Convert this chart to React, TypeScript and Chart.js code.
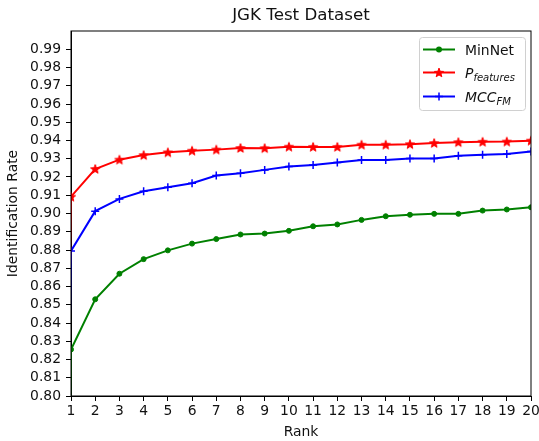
import React, { useEffect, useRef } from "react";
import { Chart, registerables } from "chart.js";

Chart.register(...registerables);

const FONT = "'DejaVu Sans', sans-serif";

// x values (rank 0 is below the visible range; its line shows as the steep segment at rank 1)
const ranks = [0, 1, 2, 3, 4, 5, 6, 7, 8, 9, 10, 11, 12, 13, 14, 15, 16, 17, 18, 19, 20];
const minNet = [0, 0.8255, 0.853, 0.867, 0.875, 0.8798, 0.8835, 0.886, 0.8885, 0.889, 0.8905, 0.893, 0.894, 0.8965, 0.8985, 0.8993, 0.8998, 0.8998, 0.9016, 0.9022, 0.9034];
const pFeatures = [0, 0.9092, 0.9244, 0.9295, 0.932, 0.9335, 0.9344, 0.935, 0.9359, 0.9358, 0.9366, 0.9365, 0.9365, 0.9377, 0.9377, 0.938, 0.9386, 0.9391, 0.9393, 0.9394, 0.9399];
const mccFM = [0, 0.8795, 0.9013, 0.908, 0.9122, 0.9144, 0.9166, 0.9208, 0.922, 0.9239, 0.9258, 0.9266, 0.928, 0.9293, 0.9293, 0.9302, 0.9302, 0.9317, 0.9322, 0.9326, 0.934];

const xTickValues = [1, 2, 3, 4, 5, 6, 7, 8, 9, 10, 11, 12, 13, 14, 15, 16, 17, 18, 19, 20];
const yTickValues = [0.8, 0.81, 0.82, 0.83, 0.84, 0.85, 0.86, 0.87, 0.88, 0.89, 0.9, 0.91, 0.92, 0.93, 0.94, 0.95, 0.96, 0.97, 0.98, 0.99];

const chartTitle = "JGK Test Dataset";
const xTitle = "Rank";
const yTitle = "Identification Rate";

const GREEN = "#008000";
const RED = "#ff0000";
const BLUE = "#0000ff";

function drawStar(ctx: CanvasRenderingContext2D, cx: number, cy: number, R: number, color: string) {
  const r = R * 0.42;
  ctx.beginPath();
  for (let i = 0; i < 10; i++) {
    const rad = i % 2 === 0 ? R : r;
    const a = -Math.PI / 2 + (i * Math.PI) / 5;
    const x = cx + rad * Math.cos(a);
    const y = cy + rad * Math.sin(a);
    if (i === 0) ctx.moveTo(x, y);
    else ctx.lineTo(x, y);
  }
  ctx.closePath();
  ctx.fillStyle = color;
  ctx.strokeStyle = color;
  ctx.lineWidth = 1;
  ctx.fill();
  ctx.stroke();
}

function makeStarImage(color: string) {
  const c = document.createElement("canvas");
  c.width = 12;
  c.height = 12;
  const ctx = c.getContext("2d")!;
  drawStar(ctx, 6, 6.4, 4.8, color);
  return c;
}

const framePlugin = {
  id: "frameAndDecor",
  afterDraw(chart: any) {
    const { ctx, chartArea } = chart;
    const { left, right, top, bottom } = chartArea;
    ctx.save();
    ctx.strokeStyle = "#000";
    ctx.lineWidth = 1;
    ctx.strokeRect(left, top, right - left, bottom - top);
    ctx.fillStyle = "#111";
    ctx.font = `16.7px ${FONT}`;
    ctx.textAlign = "center";
    ctx.textBaseline = "middle";
    ctx.fillText(chartTitle, (left + right) / 2, 15.5);

    const bx = 419.5, by = 37.5, bw = 106, bh = 73;
    ctx.beginPath();
    const rr = 3;
    ctx.moveTo(bx + rr, by);
    ctx.lineTo(bx + bw - rr, by);
    ctx.quadraticCurveTo(bx + bw, by, bx + bw, by + rr);
    ctx.lineTo(bx + bw, by + bh - rr);
    ctx.quadraticCurveTo(bx + bw, by + bh, bx + bw - rr, by + bh);
    ctx.lineTo(bx + rr, by + bh);
    ctx.quadraticCurveTo(bx, by + bh, bx, by + bh - rr);
    ctx.lineTo(bx, by + rr);
    ctx.quadraticCurveTo(bx, by, bx + rr, by);
    ctx.closePath();
    ctx.fillStyle = "rgba(255,255,255,0.8)";
    ctx.fill();
    ctx.strokeStyle = "#d0d0d0";
    ctx.stroke();

    const rows = [49.5, 72.5, 96.5];
    const colors = [GREEN, RED, BLUE];
    rows.forEach((y, i) => {
      ctx.strokeStyle = colors[i];
      ctx.lineWidth = 2;
      ctx.beginPath();
      ctx.moveTo(423, y);
      ctx.lineTo(455, y);
      ctx.stroke();
      if (i === 0) {
        ctx.beginPath();
        ctx.arc(439, y, 3, 0, Math.PI * 2);
        ctx.fillStyle = GREEN;
        ctx.fill();
      } else if (i === 1) {
        drawStar(ctx, 439, y + 0.4, 4.8, RED);
      } else {
        ctx.lineWidth = 1.5;
        ctx.beginPath();
        ctx.moveTo(439, y - 4);
        ctx.lineTo(439, y + 4);
        ctx.moveTo(435, y);
        ctx.lineTo(443, y);
        ctx.stroke();
      }
    });
    ctx.fillStyle = "#111";
    ctx.textAlign = "left";
    ctx.textBaseline = "alphabetic";
    ctx.font = `13.9px ${FONT}`;
    ctx.fillText("MinNet", 465, rows[0] + 5);
    ctx.font = `italic 13.9px ${FONT}`;
    ctx.fillText("P", 465, rows[1] + 5);
    let w = ctx.measureText("P").width;
    ctx.font = `italic 10px ${FONT}`;
    ctx.fillText("features", 465 + w, rows[1] + 8);
    ctx.font = `italic 13.9px ${FONT}`;
    ctx.fillText("MCC", 465, rows[2] + 5);
    w = ctx.measureText("MCC").width;
    ctx.font = `italic 10px ${FONT}`;
    ctx.fillText("FM", 465 + w, rows[2] + 8);
    ctx.restore();
  },
};

export default function App() {
  const ref = useRef<HTMLCanvasElement | null>(null);
  useEffect(() => {
    if (!ref.current) return;
    const mk = (arr: number[]) => ranks.map((r, i) => ({ x: r, y: arr[i] }));
    const clip = { left: 0, top: 0, right: 0, bottom: 0 } as any;
    const chart = new Chart(ref.current, {
      type: "line",
      data: {
        datasets: [
          {
            label: "MinNet",
            data: mk(minNet),
            borderColor: GREEN,
            backgroundColor: GREEN,
            borderWidth: 2,
            pointStyle: "circle",
            pointRadius: 2.5,
            pointBorderWidth: 1,
            pointBackgroundColor: GREEN,
            pointBorderColor: GREEN,
            tension: 0,
            clip,
          },
          {
            label: "P_features",
            data: mk(pFeatures),
            borderColor: RED,
            backgroundColor: RED,
            borderWidth: 2,
            pointStyle: makeStarImage(RED) as any,
            pointRadius: 5,
            tension: 0,
            clip,
          },
          {
            label: "MCC_FM",
            data: mk(mccFM),
            borderColor: BLUE,
            backgroundColor: BLUE,
            borderWidth: 2,
            pointStyle: "cross",
            pointRadius: 4,
            pointBorderWidth: 1.5,
            pointBorderColor: BLUE,
            tension: 0,
            clip,
          },
        ],
      },
      options: {
        responsive: false,
        animation: false,
        devicePixelRatio: 1,
        events: [],
        layout: { padding: { top: 31, right: 8, left: 0, bottom: 0 } },
        plugins: {
          legend: { display: false },
          title: { display: false },
          tooltip: { enabled: false },
        },
        scales: {
          x: {
            type: "linear",
            min: 1,
            max: 20,
            afterBuildTicks: (axis: any) => {
              axis.ticks = xTickValues.map((v) => ({ value: v }));
            },
            afterFit: (s: any) => {
              s.height = 45;
              s.paddingRight = 0;
              s.paddingLeft = 0;
            },
            ticks: {
              autoSkip: false,
              maxRotation: 0,
              padding: 2,
              color: "#111",
              font: { family: FONT, size: 13.9 },
              callback: (v: any) => String(v),
            },
            grid: {
              drawOnChartArea: false,
              drawTicks: true,
              tickLength: 5,
              tickColor: "#000",
              tickWidth: 1,
            },
            border: { display: true, color: "#000", width: 1 },
            title: {
              display: true,
              text: xTitle,
              color: "#111",
              font: { family: FONT, size: 13.9 },
              padding: { top: 0, bottom: 0 },
            },
          },
          y: {
            type: "linear",
            min: 0.8,
            max: 1.0,
            afterBuildTicks: (axis: any) => {
              axis.ticks = yTickValues.map((v) => ({ value: v }));
            },
            afterFit: (s: any) => {
              s.width = 71;
              s.paddingTop = 0;
              s.paddingBottom = 0;
            },
            ticks: {
              autoSkip: false,
              padding: 5,
              color: "#111",
              font: { family: FONT, size: 13.9 },
              callback: (v: any) => Number(v).toFixed(2),
            },
            grid: {
              drawOnChartArea: false,
              drawTicks: true,
              tickLength: 5,
              tickColor: "#000",
              tickWidth: 1,
            },
            border: { display: true, color: "#000", width: 1 },
            title: {
              display: true,
              text: yTitle,
              color: "#111",
              font: { family: FONT, size: 13.9 },
              padding: { top: 5, bottom: 0 },
            },
          },
        },
      },
      plugins: [framePlugin],
    });
    return () => chart.destroy();
  }, []);
  return (
    <div style={{ position: "fixed", left: 0, top: 0, width: 539, height: 441, background: "#fff" }}>
      <canvas ref={ref} width={539} height={441} style={{ display: "block", width: 539, height: 441 }} />
    </div>
  );
}
